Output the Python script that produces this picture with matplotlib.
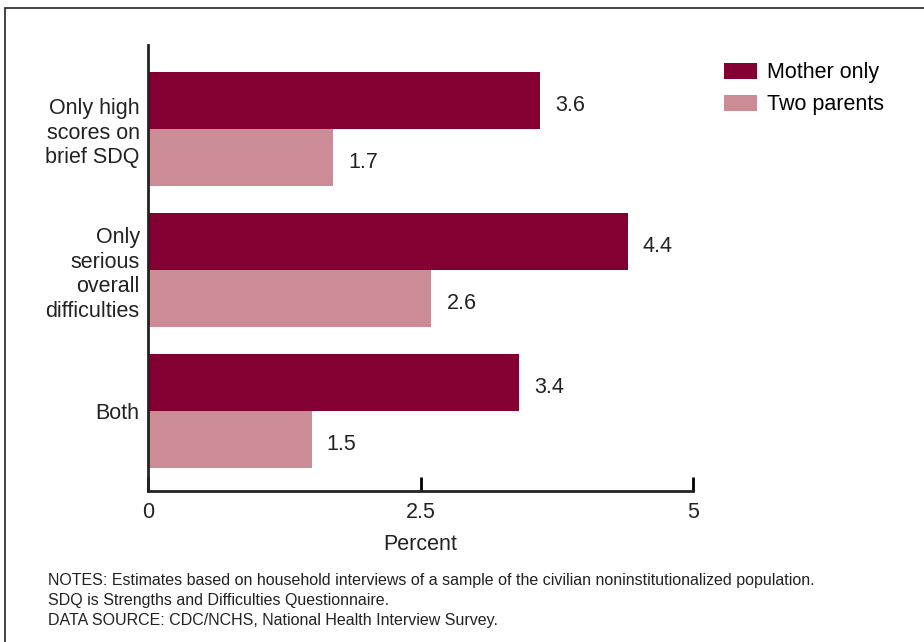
import matplotlib
matplotlib.use("Agg")
import matplotlib.pyplot as plt
from matplotlib.patches import Rectangle, Patch

plt.rcParams['font.family'] = ['Liberation Sans', 'DejaVu Sans']

categories = ["Only high\nscores on\nbrief SDQ", "Only\nserious\noverall\ndifficulties", "Both"]
mother_only = [3.6, 4.4, 3.4]
two_parents = [1.7, 2.6, 1.5]
series_names = ["Mother only", "Two parents"]
xticks = [0, 2.5, 5]
xtick_labels = ["0", "2.5", "5"]

c_mother = "#840032"
c_two = "#CC8C96"
txt = "#222222"
fs = 15.5

fig = plt.figure(figsize=(9.24, 6.42), dpi=100)
ax = fig.add_axes([148/924, 1-491/642, (693-148)/924, (491-45)/642])

pos = list(range(len(categories)))
h = 0.404
ax.barh([p - h/2 for p in pos], mother_only, height=h, color=c_mother)
ax.barh([p + h/2 for p in pos], two_parents, height=h, color=c_two)

for p, v in zip(pos, mother_only):
    ax.text(v + 0.14, p - h/2 + 0.035, f"{v}", va="center", ha="left", fontsize=fs, color=txt)
for p, v in zip(pos, two_parents):
    ax.text(v + 0.14, p + h/2 + 0.035, f"{v}", va="center", ha="left", fontsize=fs, color=txt)

ax.set_xlim(0, 5)
ax.set_ylim(2.567, -0.596)
ax.set_yticks(pos)
ax.set_yticklabels(categories, fontsize=fs, color=txt, linespacing=1.22)
ax.tick_params(axis="y", length=0, pad=6)
ax.set_xticks(xticks)
ax.set_xticklabels(xtick_labels, fontsize=fs, color=txt)
ax.tick_params(axis="x", direction="in", length=10, width=2, pad=8)
for s in ["top", "right"]:
    ax.spines[s].set_visible(False)
for s in ["left", "bottom"]:
    ax.spines[s].set_linewidth(2)
    ax.spines[s].set_color(txt)
ax.set_xlabel("Percent", fontsize=fs, color=txt, labelpad=8)

handles = [Patch(facecolor=c_mother), Patch(facecolor=c_two)]
fig.legend(handles, series_names, loc="upper left", bbox_to_anchor=(705/924, 1-43/642),
           frameon=False, fontsize=fs, handlelength=1.5, handleheight=0.75,
           handletextpad=0.5, labelspacing=0.5, borderpad=0.4)

notes = ["NOTES: Estimates based on household interviews of a sample of the civilian noninstitutionalized population.",
         "SDQ is Strengths and Difficulties Questionnaire.",
         "DATA SOURCE: CDC/NCHS, National Health Interview Survey."]
for i, t in enumerate(notes):
    fig.text(48/924, 1-(580 + i*20.5)/642, t, fontsize=11.5, va="center", ha="left", color=txt)

fig.patches.append(Rectangle((5/924, -0.05), 1.1, 1 - 8/642 + 0.05, transform=fig.transFigure,
                             fill=False, edgecolor="#222222", linewidth=1.2))

fig.savefig("out.png", dpi=100)
